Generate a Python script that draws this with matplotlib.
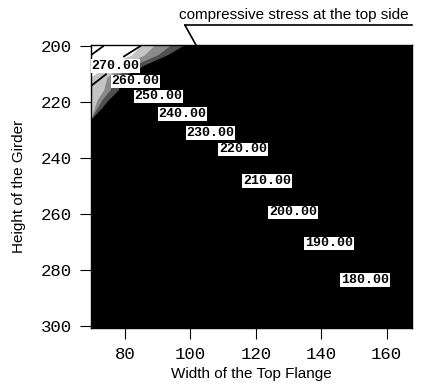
import matplotlib
matplotlib.use("Agg")
from matplotlib import pyplot as plt
from matplotlib.lines import Line2D

# contour labels (stress levels) and where they sit
levels = [270, 260, 250, 240, 230, 220, 210, 200, 190, 180]
label_x = [77.1, 83.2, 90.2, 97.6, 106.1, 116.1, 123.4, 131.4, 142.4, 153.4]
label_h = [207.0, 212.5, 217.9, 224.1, 230.9, 236.8, 248.2, 259.3, 270.4, 283.4]

# boundary of the white (non-filled) corner and of the grey transition bands
white_h = [199.5, 203.0, 206.0, 209.0, 211.0]
white_x = [85.0, 82.0, 76.0, 72.0, 69.6]
grey_h = [199.5, 203.0, 206.6, 211.0, 215.5, 219.0, 222.5, 226.0]
dark_x = [98.0, 93.0, 86.0, 79.0, 78.0, 75.0, 72.5, 69.6]
mid_x = [94.0, 90.0, 83.0, 76.5, 75.5, 73.0, 71.2, 69.6]
light_x = [89.0, 86.0, 80.0, 74.5, 73.5, 71.5, 70.5, 69.6]

# short hatch strokes in the corner
hatch_x = [(69.9, 73.3), (79.7, 84.6), (69.9, 74.2)]
hatch_h = [(202.9, 200.0), (203.6, 200.0), (213.9, 210.0)]

xticks = [80, 100, 120, 140, 160]
yticks = [200, 220, 240, 260, 280, 300]

fig = plt.figure(figsize=(4.21, 3.84), dpi=100)
ax = fig.add_axes([0.216, 0.146, 0.763, 0.737])
ax.set_facecolor("black")

ax.fill_betweenx(grey_h, 69.0, dark_x, color="#505050", lw=0)
ax.fill_betweenx(grey_h, 69.0, mid_x, color="#8a8a8a", lw=0)
ax.fill_betweenx(grey_h, 69.0, light_x, color="#c4c4c4", lw=0)
ax.fill_betweenx(white_h, 69.0, white_x, color="white", lw=0)

for hx, hh in zip(hatch_x, hatch_h):
    ax.plot(hx, hh, color="black", lw=1.3)

for lv, x, h in zip(levels, label_x, label_h):
    ax.text(x, h, "%.2f" % lv, ha="center", va="center", fontsize=9.5,
            family="Liberation Mono", fontweight="bold",
            bbox=dict(facecolor="white", edgecolor="none", pad=0.6))

ax.set_xlim(69.6, 167.8)
ax.set_ylim(300.6, 199.5)
ax.set_xticks(xticks)
ax.set_yticks(yticks)
ax.tick_params(direction="out", length=8, width=0.8, pad=6, labelsize=12.5)
for lab in ax.get_xticklabels() + ax.get_yticklabels():
    lab.set_family("Liberation Mono")
for s in ax.spines.values():
    s.set_linewidth(1.0)

ax.set_xlabel("Width of the Top Flange", fontsize=11, family="Liberation Sans", labelpad=3)
ax.set_ylabel("Height of the Girder", fontsize=11, family="Liberation Sans", labelpad=10)

# annotation at the top
fig.text(0.698, 0.961, "compressive stress at the top side", ha="center", va="center",
         fontsize=11, family="Liberation Sans")
fig.add_artist(Line2D([0.439, 0.979], [0.935, 0.935], color="black", lw=1.2))
ax.annotate("", xy=(101.7, 199.5), xycoords="data", xytext=(0.439, 0.935),
            textcoords="figure fraction",
            arrowprops=dict(arrowstyle="-", color="black", lw=1.2, shrinkA=0, shrinkB=0))

plt.savefig("out.png", dpi=100)
